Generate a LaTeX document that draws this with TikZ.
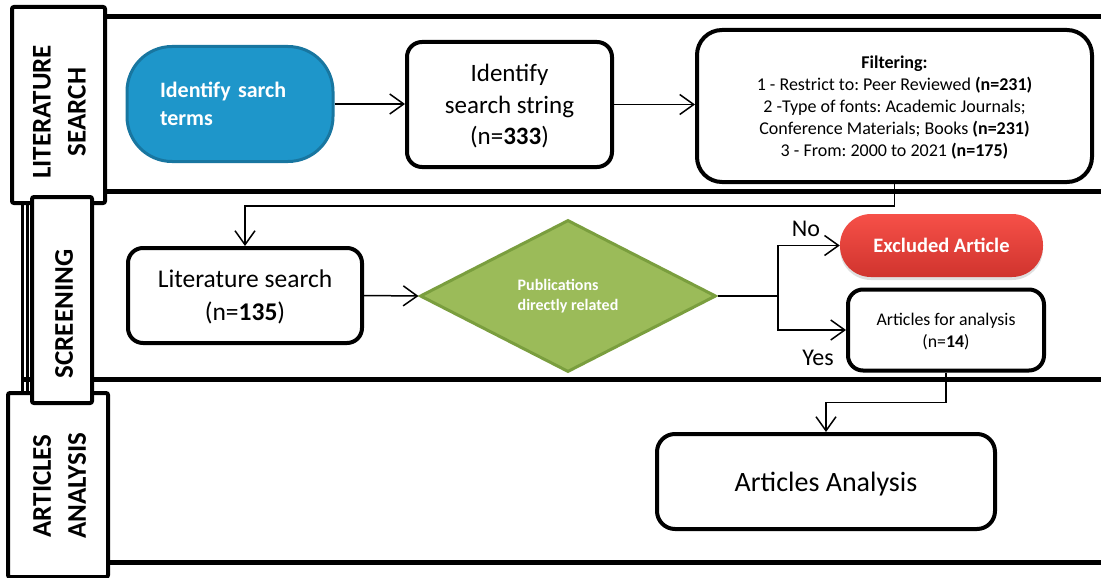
\documentclass[tikz,border=0pt]{standalone}
\usepackage{fontspec}
\setmainfont{Carlito}
\usetikzlibrary{arrows.meta,shapes.geometric,shadows}

\definecolor{termblue}{RGB}{30,150,202}
\definecolor{termedge}{RGB}{24,118,160}
\definecolor{decgreen}{RGB}{155,187,89}
\definecolor{decedge}{RGB}{122,158,62}
\definecolor{exctop}{RGB}{246,80,72}
\definecolor{excbot}{RGB}{208,52,46}

\newcommand{\fsz}[2]{\fontsize{#1}{#2}\selectfont}
\frenchspacing

\begin{document}
\begin{tikzpicture}[x=1pt,y=-1pt,
  lane/.style={line width=5pt},
  hdr/.style={draw, line width=4pt, fill=white, rounded corners=2pt},
  hdrtext/.style={rotate=90, font=\fsz{27}{35}\bfseries, align=center, inner sep=0pt},
  procbox/.style={draw, line width=4pt, rounded corners=15pt, fill=white, align=center,
                  inner sep=0pt, text depth=0pt},
  arr/.style={line width=1.5pt, -{Straight Barb[length=14pt,width=20pt]}},
  link/.style={line width=1.5pt},
  tag/.style={font=\fsz{24}{28}, inner sep=0pt}]

\useasboundingbox (0,0) rectangle (1101,578);
\fill[white] (0,0) rectangle (1101,578);

% swimlane borders
\draw[lane] (105,17) -- (1101,17);
\draw[lane] (105,191) -- (1101,191);
\draw[lane] (22,379) -- (1101,379);
\draw[lane] (108,562) -- (1101,562);
\draw[line width=3pt] (22,203) -- (22,393);
\draw[line width=3pt] (27.5,203) -- (27.5,393);

% lane headers
\node[hdr, minimum width=93pt, minimum height=196pt] (h1) at (58.5,105) {};
\node[hdr, minimum width=100pt, minimum height=184pt] (h3) at (58,485) {};
\node[hdr, minimum width=60pt, minimum height=206pt] (h2) at (62,300) {};
\node[hdrtext] (h1t) at (59.5,112) {LITERATURE\\SEARCH};
\node[hdrtext] (h2t) at (64,314) {SCREENING};
\node[hdrtext] (h3t) at (59.5,486) {ARTICLES\\ANALYSIS};

% literature search lane
\node[draw=termedge, fill=termblue, line width=3pt, rounded corners=45pt,
      minimum width=206pt, minimum height=115pt, text width=140pt, align=left,
      text=white, font=\fsz{22}{28}\bfseries] (terms) at (230,104) {Identify sarch\\terms};
\node[procbox, minimum width=205pt, minimum height=125pt, font=\fsz{25}{31.5}]
  (string) at (509.5,104.5) {Identify\\search string\\(n=\textbf{333})};
\node[procbox, rounded corners=25pt, minimum width=395pt, minimum height=152pt, font=\fsz{18}{22}]
  (filter) at (894.5,106) {\textbf{Filtering:}\\1 - Restrict to: Peer Reviewed \textbf{(n=231)}\\2 -Type of fonts: Academic Journals;\\Conference Materials; Books \textbf{(n=231)}\\3 - From: 2000 to 2021 \textbf{(n=175)}};

% screening lane
\node[procbox, minimum width=234pt, minimum height=95pt, font=\fsz{25.5}{33}]
  (litsearch) at (245,295.5) {Literature search\\(n=\textbf{135})};
\node[diamond, draw=decedge, fill=decgreen, line width=3pt, minimum width=296pt, minimum height=152pt,
      inner sep=0pt, align=left, text=white, font=\fsz{16}{20}\bfseries]
  (decide) at (568,296) {Publications\\directly related};
\node[rounded corners=31pt, top color=exctop, bottom color=excbot, minimum width=203pt, minimum height=63pt,
      text=white, font=\fsz{20.5}{24}\bfseries,
      drop shadow={opacity=0.25, shadow xshift=0pt, shadow yshift=-3pt}]
  (excluded) at (941.5,245.5) {Excluded Article};
\node[procbox, minimum width=196pt, minimum height=81pt, font=\fsz{17.8}{22}]
  (forana) at (946,330) {Articles for analysis\\(n=\textbf{14})};
\coordinate (split) at (778,296);
\node[tag] (no) at (806,229) {No};
\node[tag] (yes) at (818,358) {Yes};

% analysis lane
\node[procbox, rounded corners=18pt, minimum width=338pt, minimum height=95pt, font=\fsz{28}{32}]
  (analysis) at (826,481.5) {Articles Analysis};

% connectors
\draw[arr] (terms.east) -- (terms.east -| string.west);
\draw[arr] (string.east) -- (string.east -| filter.west);
\draw[arr] (filter.south) -- ++(0,22) -| (litsearch.north);
\draw[arr] (litsearch.east) -- (decide.west);
\draw[link] (decide.east) -- (split);
\draw[arr] (split) |- (excluded.west);
\draw[arr] (split) |- (forana.west);
\draw[arr] (forana.south) -- ++(0,30) -| (analysis.north);
\end{tikzpicture}
\end{document}
